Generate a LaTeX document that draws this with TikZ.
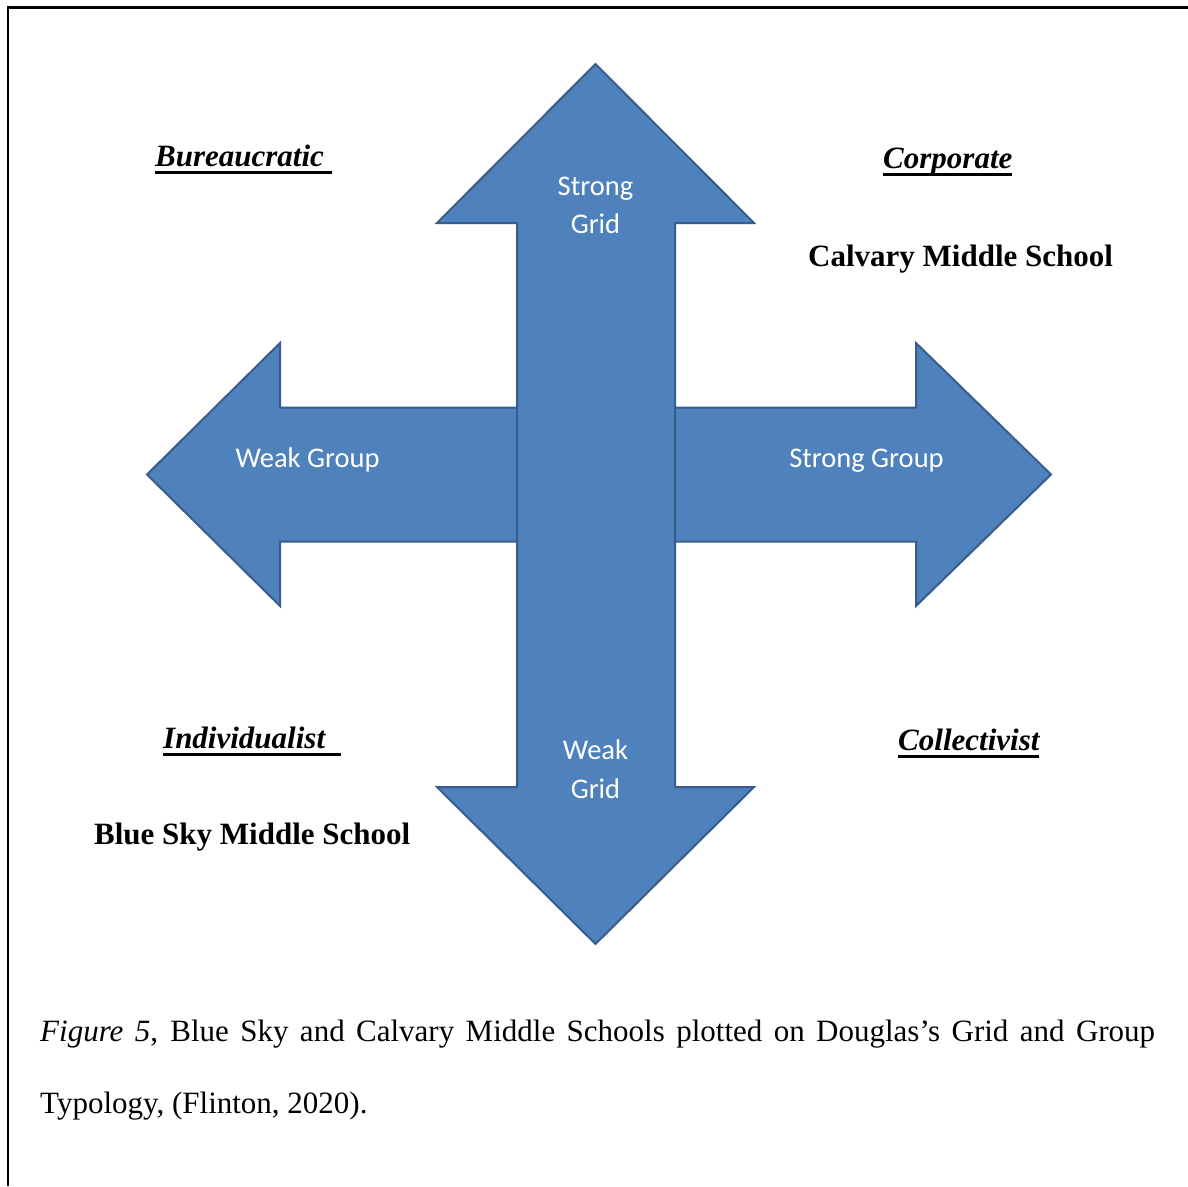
\documentclass[tikz,border=0pt]{standalone}
\usepackage{fontspec}
\setmainfont{Liberation Serif}
\newfontfamily\shapefont{Carlito}
\definecolor{arrowfill}{HTML}{4F81BD}
\definecolor{arrowedge}{HTML}{385D8A}
% underlined word, the rule running under the whole box (trailing space included)
\newcommand\ulword[1]{\setbox0\hbox{#1}\rlap{\rule[-8pt]{\wd0}{3.2pt}}\box0}
\tikzset{
  arrowshape/.style={fill=arrowfill, draw=arrowedge, line width=2pt, line join=miter},
  arrowtext/.style={font=\shapefont\fontsize{28.5}{34}\selectfont, text=white, inner sep=0pt, anchor=base},
  quadrant/.style={font=\fontsize{31}{37}\selectfont\bfseries\itshape, inner sep=0pt, anchor=base west},
  school/.style={font=\fontsize{31}{37}\selectfont\bfseries, inner sep=0pt, anchor=base west},
  captext/.style={font=\fontsize{31}{37}\selectfont, inner sep=0pt, anchor=base west},
}
\begin{document}
\begin{tikzpicture}[x=1pt,y=-1pt]
  \useasboundingbox (0,0) rectangle (1188,1186);
  \fill[white] (0,0) rectangle (1188,1186);
  % page frame
  \draw[line width=2.5pt] (1188,7.5) -- (8,7.5) -- (8,1186);

  % group axis: double arrow, left-right
  \draw[arrowshape] (147,474.5) -- (280,343) -- (280,407.5) -- (916,407.5) -- (916,343)
    -- (1051,474.5) -- (916,606) -- (916,541.5) -- (280,541.5) -- (280,606) -- cycle;
  % grid axis: double arrow, up-down, on top
  \draw[arrowshape] (595.5,64) -- (754,223) -- (675,223) -- (675,787) -- (754,787)
    -- (595.5,944) -- (437,787) -- (517,787) -- (517,223) -- (437,223) -- cycle;

  % arrow labels
  \node[arrowtext] (sg1) at (595.5,195) {Strong};
  \node[arrowtext] (sg2) at (595.5,233) {Grid};
  \node[arrowtext] (wg1) at (595.5,759) {Weak};
  \node[arrowtext] (wg2) at (595.5,798) {Grid};
  \node[arrowtext] (wgr) at (307.5,467) {Weak Group};
  \node[arrowtext] (sgr) at (866.5,467) {Strong Group};

  % quadrant names
  \node[quadrant] (bur) at (155,166) {\ulword{Bureaucratic\ }};
  \node[quadrant] (cor) at (883,168) {\ulword{Corporate}};
  \node[quadrant] (ind) at (163,748) {\ulword{Individualist\hspace{16pt}}};
  \node[quadrant] (col) at (898,750) {\ulword{Collectivist}};

  % schools
  \node[school] (cms) at (808,266) {Calvary Middle School};
  \node[school] (bsm) at (94,844) {Blue Sky Middle School};

  % caption
  \node[captext] (cap1) at (40,1041)
    {\makebox[1115pt][s]{\textit{Figure 5}, Blue Sky and Calvary Middle Schools plotted on Douglas’s Grid and Group}};
  \node[captext] (cap2) at (40,1113) {Typology, (Flinton, 2020).};
\end{tikzpicture}
\end{document}
